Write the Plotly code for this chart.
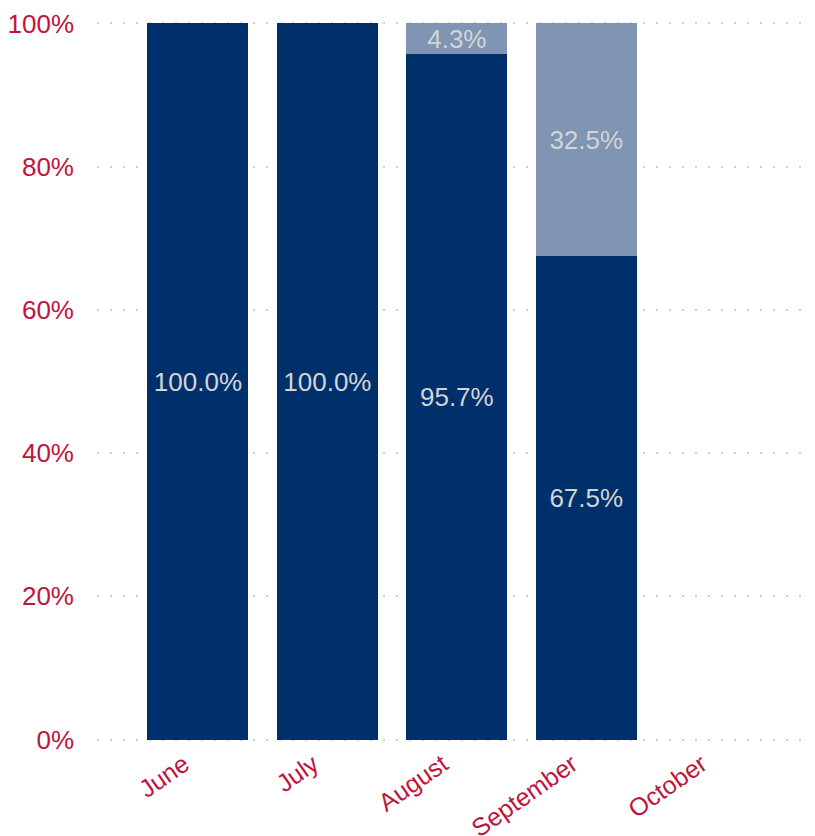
import plotly.graph_objects as go

months = ["June", "July", "August", "September", "October"]
dark_share = [100.0, 100.0, 95.7, 67.5, None]
light_share = [0.0, 0.0, 4.3, 32.5, None]
y_ticks = [0, 20, 40, 60, 80, 100]

DARK = "#00306b"
LIGHT = "#7f95b3"
TEXT = "#d4d4d4"
TICK = "#c0143c"


def labels(vals):
    return ["" if (v is None or v == 0) else f"{v:.1f}%" for v in vals]


fig = go.Figure()
fig.add_trace(go.Bar(
    x=months, y=[None if v is None else v / 100 for v in dark_share],
    marker=dict(color=DARK, line=dict(width=0)),
    text=labels(dark_share), textposition="inside", insidetextanchor="middle",
    constraintext="none", textfont=dict(color=TEXT, size=26, family="Liberation Sans, Arial"),
    hoverinfo="skip", name="dark",
))
fig.add_trace(go.Bar(
    x=months, y=[None if v is None else v / 100 for v in light_share],
    marker=dict(color=LIGHT, line=dict(width=0)),
    text=labels(light_share), textposition="inside", insidetextanchor="middle",
    constraintext="none", textfont=dict(color=TEXT, size=26, family="Liberation Sans, Arial"),
    hoverinfo="skip", name="light",
))

fig.update_layout(
    barmode="stack",
    bargap=0.22,
    width=815, height=836,
    margin=dict(l=89, r=18, t=14, b=103, autoexpand=False),
    plot_bgcolor="white", paper_bgcolor="white",
    showlegend=False,
    font=dict(family="Liberation Sans, Arial", size=24, color=TICK),
)
fig.update_xaxes(
    range=[-0.78, 4.69], showgrid=False, showline=False, zeroline=False,
    tickangle=-35, tickfont=dict(color=TICK, size=25), ticks="", automargin=False,
    ticklabelshift=-14, ticklabelstandoff=3,
)
fig.update_yaxes(
    range=[-0.002, 1.002], tickvals=[v / 100 for v in y_ticks],
    ticktext=[f"{v}%" for v in y_ticks],
    showgrid=True, gridcolor="#cfcfcf", gridwidth=2, griddash="2px,11px",
    zeroline=False, showline=False, ticks="", ticklabelstandoff=22,
    tickfont=dict(color=TICK, size=26), automargin=False,
)

fig.write_html("out.html")
